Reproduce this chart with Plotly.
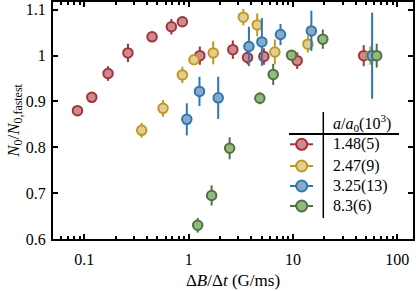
import plotly.graph_objects as go

# ---- data ----
red_x = [0.086, 0.118, 0.169, 0.262, 0.446, 0.683, 0.87, 1.28, 2.65, 3.67, 5.26, 10.97, 47.6]
red_y = [0.880, 0.909, 0.961, 1.006, 1.041, 1.063, 1.074, 1.000, 1.013, 0.996, 0.998, 0.989, 1.000]
red_e = [0.005, 0.005, 0.016, 0.020, 0.010, 0.017, 0.008, 0.020, 0.020, 0.015, 0.018, 0.018, 0.023]

yel_x = [0.355, 0.568, 0.87, 1.125, 1.72, 3.34, 4.54, 6.70, 13.9, 55.2]
yel_y = [0.837, 0.885, 0.958, 0.991, 1.006, 1.084, 1.067, 1.008, 1.025, 1.000]
yel_e = [0.016, 0.018, 0.018, 0.010, 0.025, 0.018, 0.025, 0.027, 0.018, 0.020]

blu_x = [0.96, 1.27, 1.92, 3.78, 5.03, 7.59, 15.0, 57.3]
blu_y = [0.861, 0.922, 0.908, 1.020, 1.030, 1.046, 1.054, 1.000]
blu_e = [0.035, 0.032, 0.046, 0.043, 0.052, 0.023, 0.044, 0.094]

grn_x = [1.22, 1.66, 2.47, 4.81, 6.46, 9.68, 19.3, 63.4]
grn_y = [0.630, 0.695, 0.798, 0.907, 0.959, 1.001, 1.036, 1.000]
grn_e = [0.016, 0.022, 0.024, 0.013, 0.023, 0.010, 0.021, 0.026]

series_names = ["1.48(5)", "2.47(9)", "3.25(13)", "8.3(6)"]
edge_colors = ["rgb(166,50,56)", "rgb(192,152,32)", "rgb(45,120,175)", "rgb(82,112,66)"]
fill_colors = ["rgb(202,140,145)", "rgb(226,206,146)", "rgb(136,170,200)", "rgb(146,186,126)"]

x_tickvals = [0.1, 1, 10, 100]
x_ticktext = ["0.1", "1", "10", "100"]
y_tickvals = [0.6, 0.7, 0.8, 0.9, 1.0, 1.1]
y_ticktext = ["0.6", "0.7", "0.8", "0.9", "1", "1.1"]

FONT = "'Liberation Serif', 'DejaVu Serif', serif"
TICK_SIZE = 16
TEXT_SIZE = 16
TITLE_SIZE = 17

fig = go.Figure()
all_series = [(red_x, red_y, red_e), (yel_x, yel_y, yel_e), (blu_x, blu_y, blu_e), (grn_x, grn_y, grn_e)]
for (xs, ys, es), name, ec, fc in zip(all_series, series_names, edge_colors, fill_colors):
    fig.add_trace(go.Scatter(
        x=xs, y=ys, mode="markers", name=name, showlegend=False,
        error_y=dict(type="data", array=es, color=ec, thickness=2, width=0),
        marker=dict(size=9.5, color=fc, line=dict(color=ec, width=2)),
    ))

minor_vals = []
for dec in [0.01, 0.1, 1, 10, 100]:
    for m in range(2, 10):
        v = dec * m
        if 0.05 <= v <= 140:
            minor_vals.append(v)

L, R, T, B = 53, 3, 2, 52
W, H = 416, 291
pw, ph = W - L - R, H - T - B

def px(xp):
    return (xp - L) / pw

def py(yp):
    return (H - B - yp) / ph

shapes = []
annotations = []
# legend table lines
shapes.append(dict(type="line", xref="paper", yref="paper", x0=px(323.3), x1=px(323.3),
                   y0=py(112), y1=py(218), line=dict(color="black", width=1.5)))
shapes.append(dict(type="line", xref="paper", yref="paper", x0=px(289), x1=px(399),
                   y0=py(134), y1=py(134), line=dict(color="black", width=2)))
annotations.append(dict(xref="paper", yref="paper", x=px(362), y=py(123),
                        text="<i>a</i>/<i>a</i><sub>0</sub>(10<sup>3</sup>)", showarrow=False,
                        font=dict(family=FONT, size=TEXT_SIZE, color="black"), xanchor="center", yanchor="middle"))
row_y = [144.3, 166, 186, 206]
for ry, name, ec, fc in zip(row_y, series_names, edge_colors, fill_colors):
    shapes.append(dict(type="line", xref="paper", yref="paper", x0=px(290), x1=px(313),
                       y0=py(ry), y1=py(ry), line=dict(color=ec, width=2)))
    shapes.append(dict(type="circle", xref="paper", yref="paper", xsizemode="pixel", ysizemode="pixel",
                       xanchor=px(301.7), yanchor=py(ry), x0=-5.5, x1=5.5, y0=-5.5, y1=5.5,
                       fillcolor=fc, line=dict(color=ec, width=2)))
    annotations.append(dict(xref="paper", yref="paper", x=px(331), y=py(ry), text=name, showarrow=False,
                            font=dict(family=FONT, size=TEXT_SIZE, color="black"), xanchor="left", yanchor="middle"))

fig.update_layout(
    width=W, height=H, margin=dict(l=L, r=R, t=T, b=B, autoexpand=False),
    paper_bgcolor="white", plot_bgcolor="white",
    font=dict(family=FONT, size=TICK_SIZE, color="black"),
    shapes=shapes, annotations=annotations,
    xaxis=dict(type="log", range=[-1.30, 2.15], tickvals=x_tickvals, ticktext=x_ticktext,
               ticks="inside", ticklen=5, tickwidth=1.5, tickcolor="black", automargin=False,
               ticklabelstandoff=5,
               minor=dict(tickvals=minor_vals, ticks="inside", ticklen=3, tickwidth=1.5, tickcolor="black"),
               showline=True, linecolor="black", linewidth=2, mirror="ticks", showgrid=False, zeroline=False,
               title=dict(text="Δ<i>B</i>/Δ<i>t</i> (G/ms)", standoff=7, font=dict(family=FONT, size=TITLE_SIZE)),
               tickfont=dict(family=FONT, size=TICK_SIZE)),
    yaxis=dict(range=[0.6, 1.117], tickvals=y_tickvals, ticktext=y_ticktext,
               ticks="inside", ticklen=5, tickwidth=1.5, tickcolor="black", automargin=False,
               ticklabelstandoff=2,
               showline=True, linecolor="black", linewidth=2, mirror="ticks", showgrid=False, zeroline=False,
               title=dict(text="<i>N</i><sub>0</sub>/<i>N</i><sub>0,fastest</sub>", standoff=2,
                          font=dict(family=FONT, size=TITLE_SIZE)),
               tickfont=dict(family=FONT, size=TICK_SIZE)),
)

fig.write_html("out.html", config={"displayModeBar": False},
               post_script="document.body.style.margin='0px';")
